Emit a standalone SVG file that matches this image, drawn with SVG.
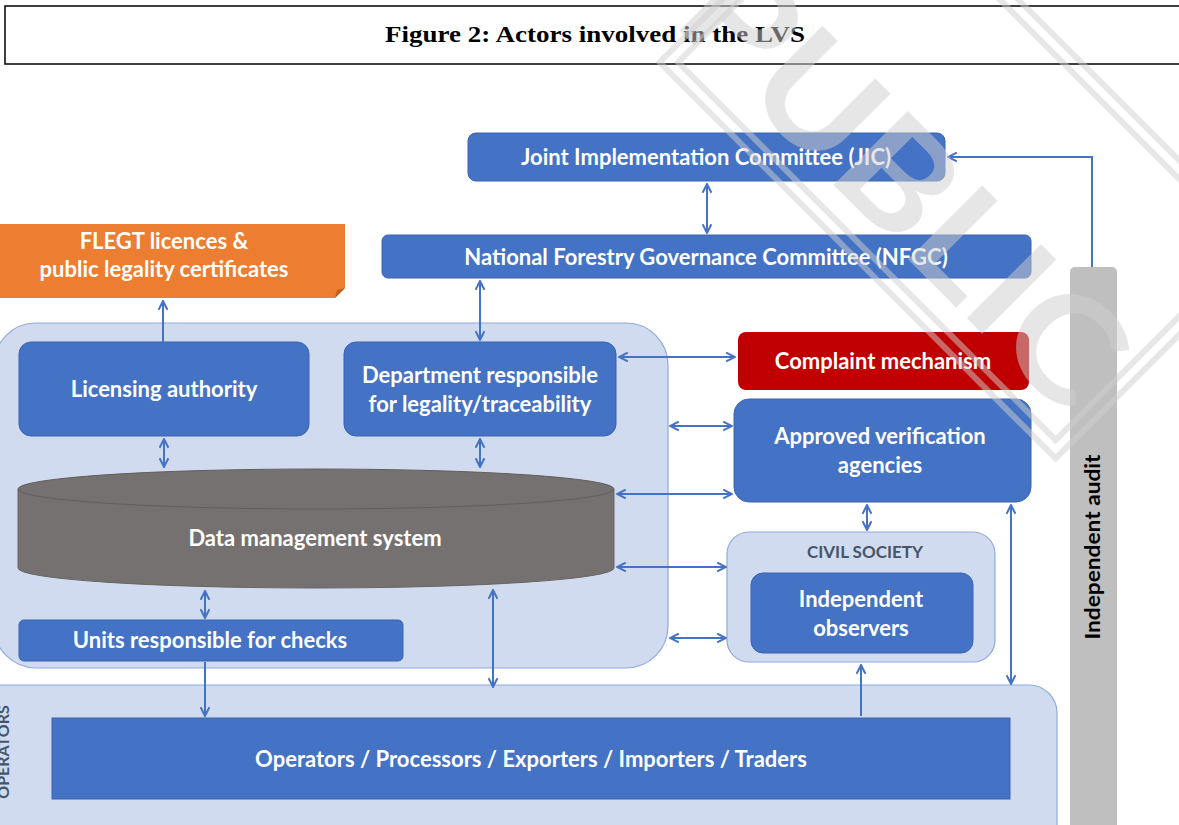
<svg xmlns="http://www.w3.org/2000/svg" width="1179" height="825" viewBox="0 0 1179 825">
<style>
.bx{fill:#4472C4;stroke:#3A64AF;stroke-width:1}
.ct{fill:#D0DBEF;stroke:#8FAADC;stroke-width:1.2}
.wt{fill:#FFFFFF;font-family:Lato,"Liberation Sans",sans-serif;font-weight:700;text-anchor:middle;font-size:22px}
.dk{font-family:Lato,"Liberation Sans",sans-serif;font-weight:700;text-anchor:middle}
.cn{fill:none;stroke:#4472C4;stroke-width:2}
.wm{fill:#CFCFCF;opacity:0.5}
</style>
<defs>
<marker id="ah" viewBox="0 0 10 10" refX="9" refY="5" markerWidth="11" markerHeight="11" markerUnits="userSpaceOnUse" orient="auto-start-reverse">
<path d="M1,1 L9,5 L1,9" fill="none" stroke="#4472C4" stroke-width="1.8"/>
</marker>
</defs>
<rect width="1179" height="825" fill="#FFFFFF"/>
<g id="title">
<rect x="5" y="6" width="1180" height="58" fill="none" stroke="#000" stroke-width="1.5"/>
<text x="595" y="42" font-family="'Liberation Serif',serif" font-weight="700" font-size="24" text-anchor="middle" textLength="420" lengthAdjust="spacingAndGlyphs">Figure 2: Actors involved in the LVS</text>
</g>
<g id="lvs-container"><rect class="ct" x="-6" y="323" width="674" height="345" rx="42"/></g>
<g id="operators-container">
<rect class="ct" x="-40" y="685" width="1097" height="180" rx="28"/>
<text class="dk" transform="translate(9,752) rotate(-90)" font-size="16" fill="#44546A">OPERATORS</text>
</g>
<g id="civil-society">
<rect class="ct" x="727" y="532" width="268" height="130" rx="22"/>
<text class="dk" x="865" y="558" font-size="17" fill="#44546A">CIVIL SOCIETY</text>
</g>
<g id="jic"><rect class="bx" x="468" y="133" width="477" height="48" rx="8"/><text class="wt" x="706" y="165">Joint Implementation Committee (JIC)</text></g>
<g id="nfgc"><rect class="bx" x="382" y="235" width="649" height="43" rx="6"/><text class="wt" x="706" y="265">National Forestry Governance Committee (NFGC)</text></g>
<g id="flegt">
<path d="M0,224 H345 V288 L335,298 H0 Z" fill="#ED7D31"/>
<path d="M335,298 L345,288 L337,290 Z" fill="#B9601F"/>
<text class="wt" x="164" y="249">FLEGT licences &amp;</text>
<text class="wt" x="164" y="277">public legality certificates</text>
</g>
<g id="licensing"><rect class="bx" x="19" y="342" width="290" height="94" rx="12"/><text class="wt" x="164" y="397">Licensing authority</text></g>
<g id="department"><rect class="bx" x="344" y="342" width="272" height="94" rx="12"/><text class="wt" x="480" y="383">Department responsible</text><text class="wt" x="480" y="412">for legality/traceability</text></g>
<g id="dms">
<path d="M18,489 V568 A298,20 0 0 0 614,568 V489 Z" fill="#767171" stroke="#6A6565" stroke-width="1"/>
<ellipse cx="316" cy="489" rx="298" ry="20" fill="#767171" stroke="#625E5E" stroke-width="1"/>
<text class="wt" x="315" y="546">Data management system</text>
</g>
<g id="units"><rect class="bx" x="19" y="620" width="384" height="41" rx="5"/><text class="wt" x="210" y="648">Units responsible for checks</text></g>
<g id="complaint"><rect x="738" y="332" width="291" height="58" rx="8" fill="#C00000"/><text class="wt" x="883" y="369">Complaint mechanism</text></g>
<g id="approved"><rect class="bx" x="734" y="399" width="297" height="103" rx="15"/><text class="wt" x="880" y="444">Approved verification</text><text class="wt" x="880" y="473">agencies</text></g>
<g id="observers"><rect class="bx" x="751" y="573" width="222" height="80" rx="12"/><text class="wt" x="861" y="607">Independent</text><text class="wt" x="861" y="636">observers</text></g>
<g id="operators"><rect class="bx" x="52" y="718" width="958" height="81"/><text class="wt" x="531" y="767">Operators / Processors / Exporters / Importers / Traders</text></g>
<g id="audit"><rect x="1070" y="267" width="47" height="580" rx="5" fill="#BFBFBF"/><text class="dk" transform="translate(1100,547) rotate(-90)" font-size="20" fill="#000" textLength="185" lengthAdjust="spacingAndGlyphs">Independent audit</text></g>
<g id="connectors">
<path class="cn" d="M707,184 V233" marker-start="url(#ah)" marker-end="url(#ah)"/>
<path class="cn" d="M1092,267 V157 H948" marker-end="url(#ah)"/>
<path class="cn" d="M163,342 V301" marker-end="url(#ah)"/>
<path class="cn" d="M480,281 V340" marker-start="url(#ah)" marker-end="url(#ah)"/>
<path class="cn" d="M619,357 H735" marker-start="url(#ah)" marker-end="url(#ah)"/>
<path class="cn" d="M670,426 H732" marker-start="url(#ah)" marker-end="url(#ah)"/>
<path class="cn" d="M617,494 H732" marker-start="url(#ah)" marker-end="url(#ah)"/>
<path class="cn" d="M617,567 H726" marker-start="url(#ah)" marker-end="url(#ah)"/>
<path class="cn" d="M670,638 H726" marker-start="url(#ah)" marker-end="url(#ah)"/>
<path class="cn" d="M164,439 V467" marker-start="url(#ah)" marker-end="url(#ah)"/>
<path class="cn" d="M480,439 V467" marker-start="url(#ah)" marker-end="url(#ah)"/>
<path class="cn" d="M205,591 V618" marker-start="url(#ah)" marker-end="url(#ah)"/>
<path class="cn" d="M205,662 V716" marker-end="url(#ah)"/>
<path class="cn" d="M493,590 V687" marker-start="url(#ah)" marker-end="url(#ah)"/>
<path class="cn" d="M1011,505 V684" marker-start="url(#ah)" marker-end="url(#ah)"/>
<path class="cn" d="M861,716 V665" marker-end="url(#ah)"/>
<path class="cn" d="M867,505 V530" marker-start="url(#ah)" marker-end="url(#ah)"/>
</g>
<g id="watermark">
<g transform="translate(963,155) rotate(45)">
<rect x="-280" y="-149" width="560" height="298" fill="none" stroke="#CFCFCF" stroke-width="6" opacity="0.5"/>
<rect x="-267" y="-136" width="534" height="272" fill="none" stroke="#CFCFCF" stroke-width="6" opacity="0.5"/>
</g>
<text class="wm" transform="translate(905,183) rotate(45)" x="0" y="52" font-family="Lato,'Liberation Sans',sans-serif" font-weight="700" font-size="145" text-anchor="middle" textLength="560" lengthAdjust="spacingAndGlyphs">PUBLIC</text>
</g>
</svg>
